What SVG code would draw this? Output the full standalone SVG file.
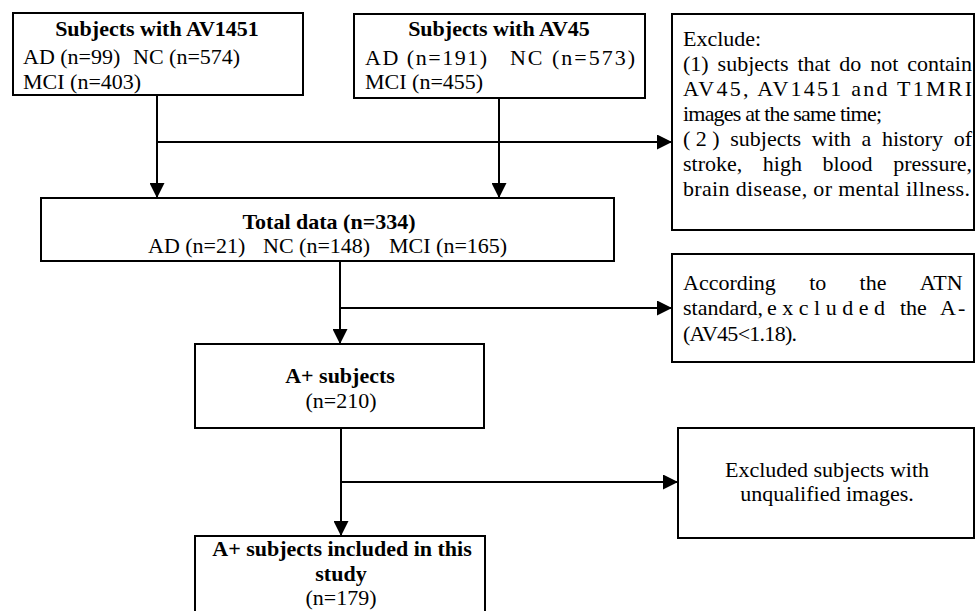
<svg xmlns="http://www.w3.org/2000/svg" width="977" height="611" viewBox="0 0 977 611">
<style>
  .box{fill:#fff;stroke:#000;stroke-width:2}
  .ln{fill:none;stroke:#000;stroke-width:2}
  text{font-family:"Liberation Serif","Times New Roman",serif;font-size:22px;fill:#000}
  .b{font-weight:bold}
  .c{text-anchor:middle}
</style>
<defs>
  <marker id="arr" markerUnits="userSpaceOnUse" markerWidth="15" markerHeight="15" refX="15" refY="7.5" orient="auto">
    <path d="M0,0 L15,7.5 L0,15 Z" fill="#000"/>
  </marker>
</defs>
<rect width="977" height="611" fill="#fff"/>

<g id="connectors">
  <line class="ln" x1="157" y1="95" x2="157" y2="198" marker-end="url(#arr)"/>
  <line class="ln" x1="157" y1="142" x2="672" y2="142" marker-end="url(#arr)"/>
  <line class="ln" x1="499" y1="98" x2="499" y2="198" marker-end="url(#arr)"/>
  <line class="ln" x1="340" y1="261" x2="340" y2="344" marker-end="url(#arr)"/>
  <line class="ln" x1="340" y1="308" x2="672" y2="308" marker-end="url(#arr)"/>
  <line class="ln" x1="341" y1="428" x2="341" y2="536" marker-end="url(#arr)"/>
  <line class="ln" x1="341" y1="482" x2="678" y2="482" marker-end="url(#arr)"/>
</g>

<g id="av1451">
  <rect class="box" x="13" y="13" width="290" height="82"/>
  <text class="b c" x="157" y="36">Subjects with AV1451</text>
  <text x="23" y="64">AD (n=99)</text>
  <text x="133" y="64">NC (n=574)</text>
  <text x="23" y="89">MCI (n=403)</text>
</g>

<g id="av45">
  <rect class="box" x="354" y="14" width="291" height="84"/>
  <text class="b c" x="499" y="36">Subjects with AV45</text>
  <text x="365" y="65" textLength="122" lengthAdjust="spacing">AD (n=191)</text>
  <text x="510" y="65" textLength="125" lengthAdjust="spacing">NC (n=573)</text>
  <text x="365" y="89">MCI (n=455)</text>
</g>

<g id="exclude1">
  <rect class="box" x="672" y="14" width="302" height="216"/>
  <text x="683" y="46">Exclude:</text>
  <text y="71"><tspan x="683">(1)</tspan><tspan x="717.6">subjects</tspan><tspan x="797.4">that</tspan><tspan x="839.3">do</tspan><tspan x="870.2">not</tspan><tspan x="907.2">contain</tspan></text>
  <text x="683" y="96" textLength="289" lengthAdjust="spacing">AV45, AV1451 and T1MRI</text>
  <text x="683" y="121" textLength="199" lengthAdjust="spacing">images at the same time;</text>
  <text y="146"><tspan x="683" letter-spacing="5.5">(2)</tspan><tspan x="730.3">subjects</tspan><tspan x="811.8">with</tspan><tspan x="861.5">a</tspan><tspan x="881.9">history</tspan><tspan x="953.7">of</tspan></text>
  <text y="171"><tspan x="683">stroke,</tspan><tspan x="762.8">high</tspan><tspan x="822.5">blood</tspan><tspan x="893.2">pressure,</tspan></text>
  <text x="683" y="196" textLength="287" lengthAdjust="spacing">brain disease, or mental illness.</text>
</g>

<g id="total">
  <rect class="box" x="41" y="198" width="573" height="63"/>
  <text class="b c" x="329" y="229">Total data (n=334)</text>
  <text x="148" y="253">AD (n=21)</text>
  <text x="263" y="253">NC (n=148)</text>
  <text x="389" y="253">MCI (n=165)</text>
</g>

<g id="exclude2">
  <rect class="box" x="672" y="254" width="302" height="108"/>
  <text y="290"><tspan x="683">According</tspan><tspan x="809.2">to</tspan><tspan x="859.6">the</tspan><tspan x="919.8">ATN</tspan></text>
  <text y="315"><tspan x="683">standard,</tspan><tspan x="767" letter-spacing="5.5">excluded</tspan><tspan x="900">the</tspan><tspan x="940" letter-spacing="2">A-</tspan></text>
  <text x="683" y="341" textLength="114" lengthAdjust="spacing">(AV45&lt;1.18).</text>
</g>

<g id="aplus">
  <rect class="box" x="195" y="344" width="289" height="84"/>
  <text class="b c" x="340" y="383">A+ subjects</text>
  <text class="c" x="341" y="408">(n=210)</text>
</g>

<g id="exclude3">
  <rect class="box" x="678" y="428" width="296" height="110"/>
  <text class="c" x="827" y="477">Excluded subjects with</text>
  <text class="c" x="827" y="501">unqualified images.</text>
</g>

<g id="included">
  <rect class="box" x="195" y="536" width="290" height="90"/>
  <text class="b c" x="342" y="556">A+ subjects included in this</text>
  <text class="b c" x="341" y="581">study</text>
  <text class="c" x="341" y="605">(n=179)</text>
</g>
</svg>
